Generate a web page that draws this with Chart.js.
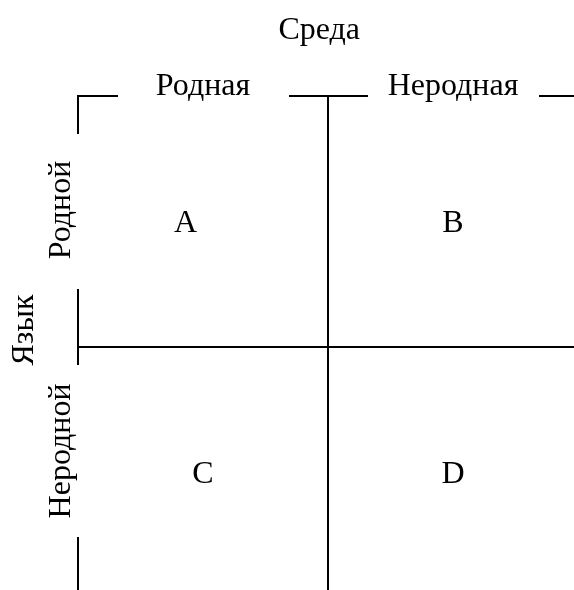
<!DOCTYPE html>
<html>
<head>
<meta charset="utf-8">
<script src="https://cdn.jsdelivr.net/npm/chart.js@4"></script>
<style>
  html, body { margin: 0; padding: 0; background: #ffffff; overflow: hidden; }
  canvas { display: block; }
</style>
</head>
<body>
<canvas id="c" width="574" height="590"></canvas>
<script>
// ---- Data ----
const topTitle = "Среда";
const sideTitle = "Язык";
const columns = ["Родная", "Неродная"];
const rows = ["Родной", "Неродной"];
const cellLabels = ["A", "B", "C", "D"];
const cellX = [0.43, 1.5, 0.5, 1.5];
const cellY = [0.5, 0.5, 1.5, 1.5];

// ---- Layout (scale units: one column/row = 1) ----
const FONT = '32px "Liberation Serif", "Times New Roman", serif';
const LINE_W = 2;
const frameTopGaps = [[0, 0.156], [0.848, 1.156], [1.848, 2.5]];
const frameLeftGaps = [[0, 0.147], [0.773, 1.068], [1.761, 2.5]];
const TXT = {
  titleX: 0.965, titleY: -0.227,
  colLabelY: -0.004,
  rowLabelX: -0.034, rowLabelY: [0.454, 1.414],
  sideX: -0.18, sideY: 0.932,
  cellBaselineOffset: 10
};

function seg(points) {
  return {
    data: points,
    showLine: true,
    pointRadius: 0,
    borderColor: '#000000',
    borderWidth: LINE_W,
    borderCapStyle: 'square',
    fill: false,
    tension: 0
  };
}

const datasets = [];
// quadrant dividers
datasets.push(seg([{x: 1, y: 0}, {x: 1, y: 2.5}]));
datasets.push(seg([{x: 0, y: 1}, {x: 2.5, y: 1}]));
// outer frame pieces (interrupted by the labels)
frameTopGaps.forEach(([a, b]) => datasets.push(seg([{x: a, y: 0}, {x: b, y: 0}])));
frameLeftGaps.forEach(([a, b]) => datasets.push(seg([{x: 0, y: a}, {x: 0, y: b}])));

const labelsPlugin = {
  id: 'quadLabels',
  afterDatasetsDraw(chart) {
    const ctx = chart.ctx;
    const xs = chart.scales.x, ys = chart.scales.y;
    ctx.save();
    ctx.fillStyle = '#000000';
    ctx.font = FONT;
    ctx.textBaseline = 'alphabetic';
    ctx.textAlign = 'center';

    // top title
    ctx.fillText(topTitle, xs.getPixelForValue(TXT.titleX), ys.getPixelForValue(TXT.titleY));

    // column labels
    columns.forEach((c, i) => {
      ctx.fillText(c, xs.getPixelForValue(i + 0.5), ys.getPixelForValue(TXT.colLabelY));
    });

    // cell labels
    cellLabels.forEach((t, i) => {
      ctx.fillText(t, xs.getPixelForValue(cellX[i]), ys.getPixelForValue(cellY[i]) + TXT.cellBaselineOffset);
    });

    // rotated row labels
    rows.forEach((r, i) => {
      ctx.save();
      ctx.translate(xs.getPixelForValue(TXT.rowLabelX), ys.getPixelForValue(TXT.rowLabelY[i]));
      ctx.rotate(-Math.PI / 2);
      ctx.fillText(r, 0, 0);
      ctx.restore();
    });

    // side title
    ctx.save();
    ctx.translate(xs.getPixelForValue(TXT.sideX), ys.getPixelForValue(TXT.sideY));
    ctx.rotate(-Math.PI / 2);
    ctx.fillText(sideTitle, 0, 0);
    ctx.restore();

    ctx.restore();
  }
};

new Chart(document.getElementById('c'), {
  type: 'scatter',
  data: { datasets },
  options: {
    responsive: false,
    animation: false,
    events: [],
    layout: { padding: 0 },
    plugins: { legend: { display: false }, tooltip: { enabled: false }, title: { display: false } },
    scales: {
      x: { type: 'linear', display: false, min: -0.312, max: 1.984 },
      y: { type: 'linear', display: false, reverse: true, min: -0.3825, max: 1.968 }
    }
  },
  plugins: [labelsPlugin]
});
</script>
</body>
</html>
